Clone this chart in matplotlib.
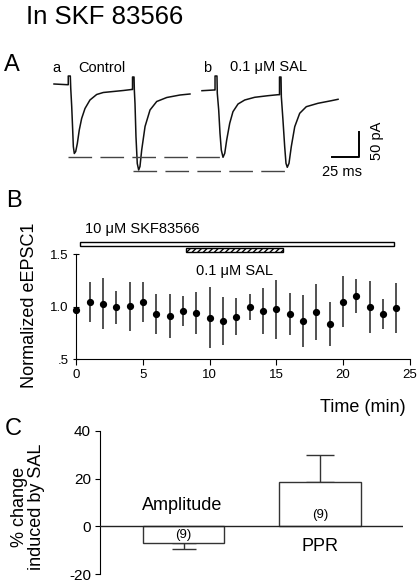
import numpy as np
import matplotlib
matplotlib.use('Agg')
import matplotlib.pyplot as plt
from matplotlib.patches import Rectangle

plt.rcParams['font.family'] = ['Liberation Sans', 'DejaVu Sans']
plt.rcParams['axes.unicode_minus'] = False

# ---- panel A: example traces (ms, pA relative to baseline of trace a)
trace_a_t = [0, 12.3, 13.2, 13.2, 15.1, 15.5, 16.4, 17.3, 17.9, 18.8, 20.1, 21.6, 23.4,
             25.6, 28.7, 33.3, 39.5, 45.6, 54.9, 64.2, 71.9, 72.7, 72.7, 74.1, 74.4,
             75.0, 75.9, 77.1, 78.4, 79.6, 81.2, 84.3, 88.9, 95.1, 104.4, 116.7, 125.9]
trace_a_i = [0, -1.4, -1.4, 16, 16, -8.6, -45, -92, -125, -139, -135, -119, -92,
             -69, -49, -32, -21, -17, -15, -13, -11, -11, 14, 14, -13,
             -39, -105, -159, -172, -165, -132, -85, -52, -35, -27, -22, -20]
trace_b_t = [137.0, 148.1, 149.1, 149.1, 150.9, 151.2, 152.5, 153.7, 154.9, 156.5, 158.1,
             159.9, 162.7, 165.7, 170.4, 176.6, 185.8, 198.1, 207.4, 208.8, 208.8, 210.2,
             210.5, 212.0, 213.6, 214.8, 216.0, 217.6, 219.7, 222.9, 227.5, 233.6, 244.4,
             256.8, 263.0]
trace_b_i = [-13.4, -12, -12, 16, 16, -18.6, -52, -98.6, -132, -146.6, -138.6,
             -112, -78.6, -55.4, -40, -32, -26.6, -23.4, -21.4, -21.4, 14, 14,
             -25.4, -72, -125.4, -158.6, -166.6, -158.6, -125.4, -85.4, -58.6, -45.4, -38.6,
             -33.4, -30.6]
peak_lines = [(-145, 13.0, 156.5), (-174, 73.1, 215.7)]

# ---- panel B: time course
time_min = np.arange(0, 25)
norm_epsc = [0.967, 1.049, 1.03, 0.995, 1.005, 1.049, 0.935, 0.916, 0.96, 0.94, 0.894,
             0.865, 0.906, 0.998, 0.96, 0.976, 0.93, 0.865, 0.95, 0.833, 1.049, 1.103,
             1.0, 0.93, 0.99]
norm_sem = [0.0, 0.19, 0.24, 0.155, 0.235, 0.19, 0.19, 0.21, 0.145, 0.2, 0.29,
            0.23, 0.175, 0.12, 0.22, 0.28, 0.2, 0.25, 0.27, 0.21, 0.24, 0.16,
            0.25, 0.14, 0.24]

# ---- panel C: summary
bar_names = ['Amplitude', 'PPR']
bar_values = [-6.8, 18.5]
bar_errs = [2.7, 11.3]
bar_n = ['(9)', '(9)']

W, H = 420, 584
fig = plt.figure(figsize=(W / 100, H / 100), dpi=100)


def frame(left, top, right, bottom):
    return [left / W, 1 - bottom / H, (right - left) / W, (bottom - top) / H]


fig.text(26 / W, 1 - 23.5 / H, 'In SKF 83566', fontsize=18.5, va='baseline')
fig.text(4 / W, 1 - 71 / H, 'A', fontsize=17, va='baseline')
fig.text(6 / W, 1 - 207 / H, 'B', fontsize=17, va='baseline')
fig.text(5 / W, 1 - 435 / H, 'C', fontsize=17, va='baseline')

# A
axA = fig.add_axes(frame(40, 60, 400, 185))
axA.set_xlim((40 - 54) / 1.08, (400 - 54) / 1.08)
axA.set_ylim(-(185 - 84) * 2, -(60 - 84) * 2)
axA.axis('off')
axA.plot(trace_a_t, trace_a_i, color='#111111', lw=1.1)
axA.plot(trace_b_t, trace_b_i, color='#111111', lw=1.1)
for level, x0, x1 in peak_lines:
    axA.plot([x0, x1], [level, level], color='#444444', lw=1, dashes=(17, 6))
axA.plot([257.4, 282.4, 282.4], [-146, -146, -96], color='k', lw=1.4)
axA.text(299, -114, '50 pA', rotation=90, fontsize=10.5, ha='center', va='center')
axA.text(266.7, -176, '25 ms', fontsize=10.5, ha='center', va='center')
axA.text(2.3, 25, 'a', fontsize=10.5, ha='center', va='baseline')
axA.text(22.2, 25, 'Control', fontsize=10.5, ha='left', va='baseline')
axA.text(141.7, 25, 'b', fontsize=10.5, ha='center', va='baseline')
axA.text(163, 25, '0.1 \u03bcM SAL', fontsize=10.5, ha='left', va='baseline')

# B
axB = fig.add_axes(frame(76.3, 254.3, 409.5, 359.3))
axB.errorbar(time_min, norm_epsc, yerr=norm_sem, fmt='o', color='k', ecolor='#333333',
             elinewidth=1.2, markersize=4.2, capsize=0, clip_on=False, zorder=3)
axB.set_xlim(0, 25)
axB.set_ylim(0.5, 1.5)
axB.set_xticks([0, 5, 10, 15, 20, 25])
axB.set_yticks([0.5, 1.0, 1.5])
axB.set_yticklabels(['.5', '1.0', '1.5'])
for s in ['top', 'right']:
    axB.spines[s].set_visible(False)
axB.tick_params(axis='x', direction='out', length=4, labelsize=9.5, pad=3)
axB.tick_params(axis='y', direction='inout', length=5, labelsize=9.5, pad=3)
axB.add_patch(Rectangle((0.3, 1.579), 23.5, 0.035, facecolor='white', edgecolor='k',
                        lw=1, clip_on=False))
axB.add_patch(Rectangle((8.2, 1.525), 7.3, 0.032, facecolor='white', edgecolor='k',
                        lw=1, hatch='//////', clip_on=False))
axB.text(0.65, 1.705, '10 \u03bcM SKF83566', fontsize=10.5, va='baseline')
axB.text(11.85, 1.303, '0.1 \u03bcM SAL', fontsize=10.5, ha='center', va='baseline')
axB.text(0.9895, -0.499, 'Time (min)', fontsize=13, ha='right', va='baseline',
         transform=axB.transAxes)
fig.text(29 / W, 1 - 305 / H, 'Normalized eEPSC1', fontsize=13, rotation=90,
         ha='center', va='center')

# C
axC = fig.add_axes(frame(100, 430.7, 403, 574.3))
xpos = np.array([1, 2])
axC.bar(xpos, bar_values, width=0.6, color='white', edgecolor='#333333', lw=1, zorder=2)
axC.errorbar(xpos[0], bar_values[0], yerr=[[bar_errs[0]], [0]], fmt='none',
             ecolor='#333333', elinewidth=1, capsize=8.5, capthick=1, zorder=1)
axC.errorbar(xpos[1], bar_values[1], yerr=[[0], [bar_errs[1]]], fmt='none',
             ecolor='#333333', elinewidth=1, capsize=10, capthick=1, zorder=1)
axC.axhline(0, color='#222222', lw=1, zorder=3)
axC.set_xlim(0.388, 2.608)
axC.set_ylim(-20, 40)
axC.set_yticks([-20, 0, 20, 40])
axC.set_xticks([])
for s in ['top', 'right', 'bottom']:
    axC.spines[s].set_visible(False)
axC.tick_params(axis='y', direction='out', length=3.5, labelsize=11, pad=3)
axC.text(0.987, 7.0, bar_names[0], fontsize=13, ha='center', va='baseline')
axC.text(2.0, -10.2, bar_names[1], fontsize=13, ha='center', va='baseline')
axC.text(1.0, -3.5, bar_n[0], fontsize=9.5, ha='center', va='center')
axC.text(2.0, 4.9, bar_n[1], fontsize=9.5, ha='center', va='center')
fig.text(28 / W, 1 - 506.5 / H, '% change\ninduced by SAL', fontsize=13, rotation=90,
         ha='center', va='center', linespacing=0.95)

fig.savefig('out.png', dpi=100)
